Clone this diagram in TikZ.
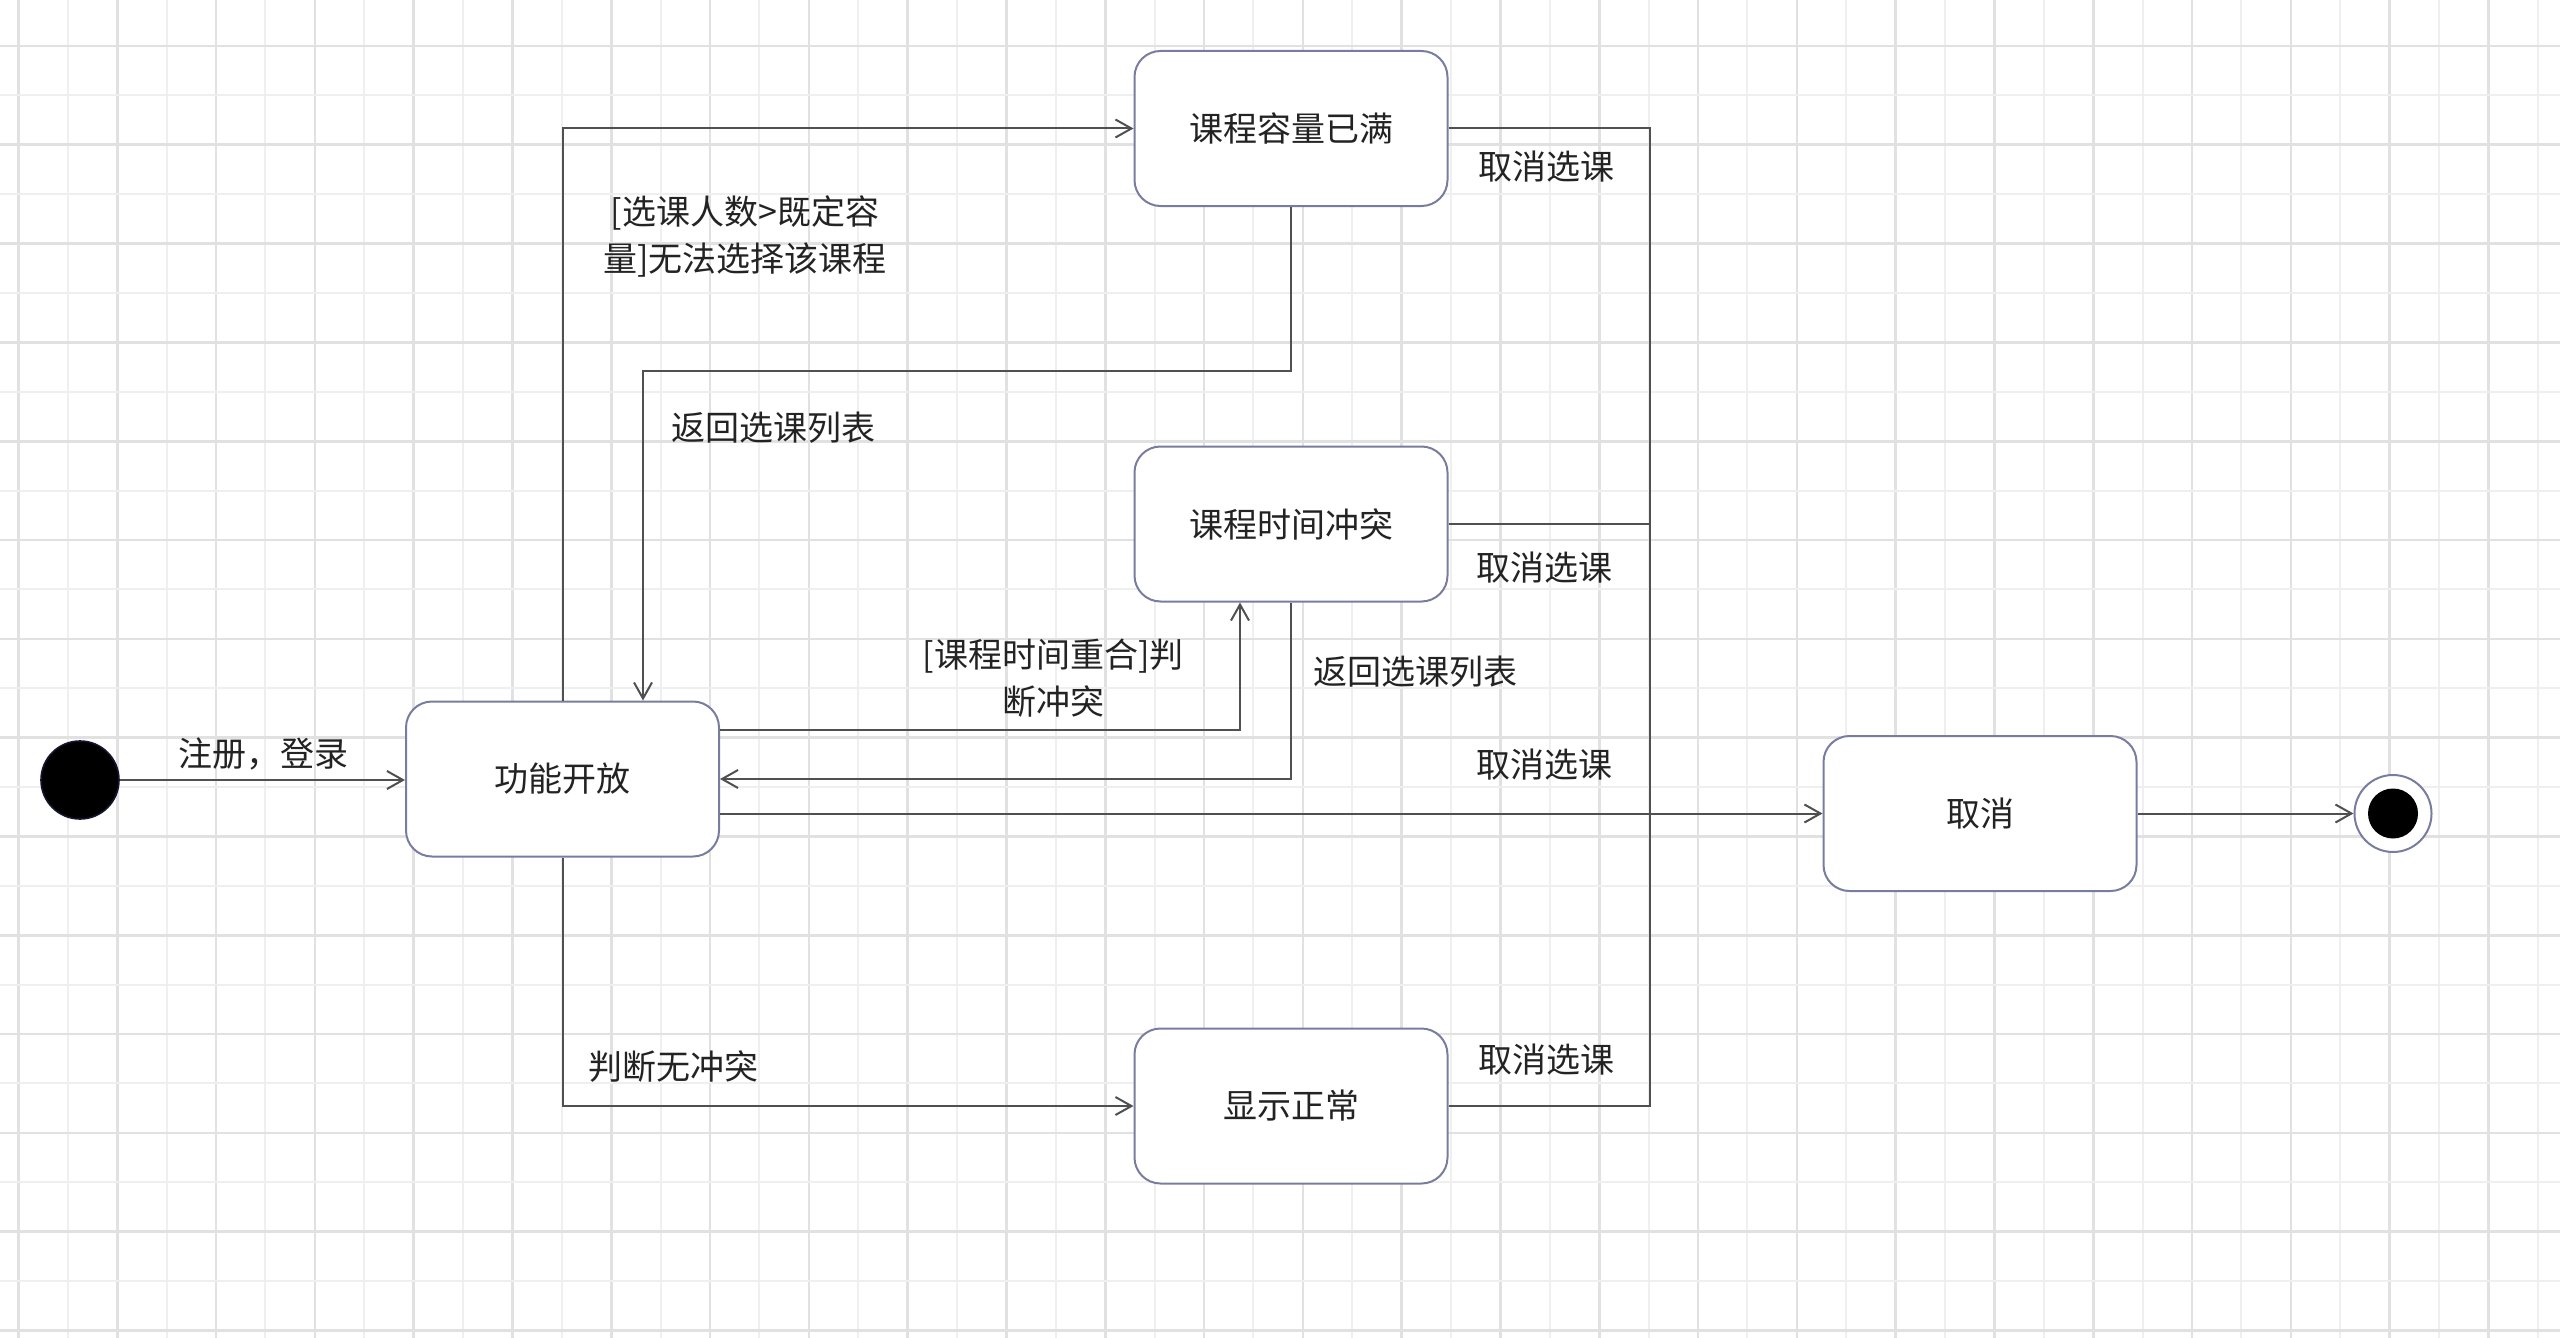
\documentclass[tikz,border=0pt]{standalone}
\usepackage{fontspec}
\setmainfont{Noto Sans CJK SC}
\usetikzlibrary{arrows.meta}
\definecolor{gridmajor}{RGB}{225,225,225}
\definecolor{gridminor}{RGB}{239,239,239}
\definecolor{stateborder}{RGB}{120,125,160}
\definecolor{conn}{RGB}{80,80,80}
\definecolor{txt}{RGB}{35,35,35}
\tikzset{
  statebox/.style={draw=stateborder, line width=1pt, rounded corners=13pt, fill=white,
    minimum width=156.5pt, minimum height=77.5pt, inner sep=0pt,
    font=\fontsize{17}{20}\selectfont, text=txt},
  lbl/.style={font=\fontsize{17}{23.5}\selectfont, text=txt, align=center, inner sep=0pt},
  conline/.style={draw=conn, line width=1pt},
  arr/.style={conline, -{Straight Barb[length=8pt,width=9pt,line width=1pt]}},
}
\begin{document}
\begin{tikzpicture}[x=0.5pt,y=-0.5pt]
\fill[white] (0,0) rectangle (2560,1338);
\useasboundingbox (0,0) rectangle (2560,1338);
% grid
\foreach \i in {0,...,52} {
  \pgfmathsetmacro{\gx}{18.4+49.4*\i}
  \ifodd\i
    \draw[gridminor, line width=1pt] (\gx,0) -- (\gx,1338);
  \else
    \draw[gridmajor, line width=1.3pt] (\gx,0) -- (\gx,1338);
  \fi
}
\foreach \j in {0,...,26} {
  \pgfmathsetmacro{\gy}{46+49.4*\j}
  \ifodd\j
    \draw[gridminor, line width=1pt] (0,\gy) -- (2560,\gy);
  \else
    \draw[gridmajor, line width=1.3pt] (0,\gy) -- (2560,\gy);
  \fi
}
% states
\node[circle, fill=black, draw={rgb,255:red,20;green,20;blue,50}, line width=0.8pt, minimum size=39pt, inner sep=0pt] (init) at (80,780) {};
\node[statebox] (open) at (562.5,779) {功能开放};
\node[statebox] (full) at (1291,128.5) {课程容量已满};
\node[statebox] (conflict) at (1291,524) {课程时间冲突};
\node[statebox] (normal) at (1291,1106) {显示正常};
\node[statebox] (cancel) at (1980,813.5) {取消};
\node[circle, draw=stateborder, fill=white, line width=1pt, minimum size=38.5pt, inner sep=0pt] (final) at (2393,813.5) {};
\node[circle, fill=black, minimum size=25pt, inner sep=0pt] (finalin) at (final.center) {};
% helper coordinates
\coordinate (r1) at (643,371);
\coordinate (c1) at (1240,730);
\coordinate (bus) at (1650,813.5);
% connectors
\draw[arr] (init) -- (init -| open.west);
\draw[arr] (open.north) |- (full.west);
\draw[arr] (full.south) |- (r1) -- (r1 |- open.north);
\draw[arr] (c1 -| open.east) -- (c1) -- (c1 |- conflict.south);
\draw[arr] (conflict.south) |- (open.east);
\draw[arr] (open.east |- cancel.west) -- (cancel.west);
\draw[conline] (full.east) -| (bus);
\draw[conline] (conflict.east) -- (conflict.east -| bus);
\draw[conline] (normal.east) -| (bus);
\draw[arr] (open.south) |- (normal.west);
\draw[arr] (cancel.east) -- (final.west);
% labels
\node[lbl] (l1) at (263,754) {注册，登录};
\node[lbl] (l2) at (745,236.5) {[选课人数>既定容\\量]无法选择该课程};
\node[lbl] (l3) at (773,428) {返回选课列表};
\node[lbl] (l4) at (1053,678) {[课程时间重合]判\\断冲突};
\node[lbl] (l5) at (1415,672) {返回选课列表};
\node[lbl] (l6) at (1546,167) {取消选课};
\node[lbl] (l7) at (1544,568) {取消选课};
\node[lbl] (l8) at (1544,765) {取消选课};
\node[lbl] (l9) at (1546,1060) {取消选课};
\node[lbl] (l10) at (673,1067) {判断无冲突};
\end{tikzpicture}
\end{document}
